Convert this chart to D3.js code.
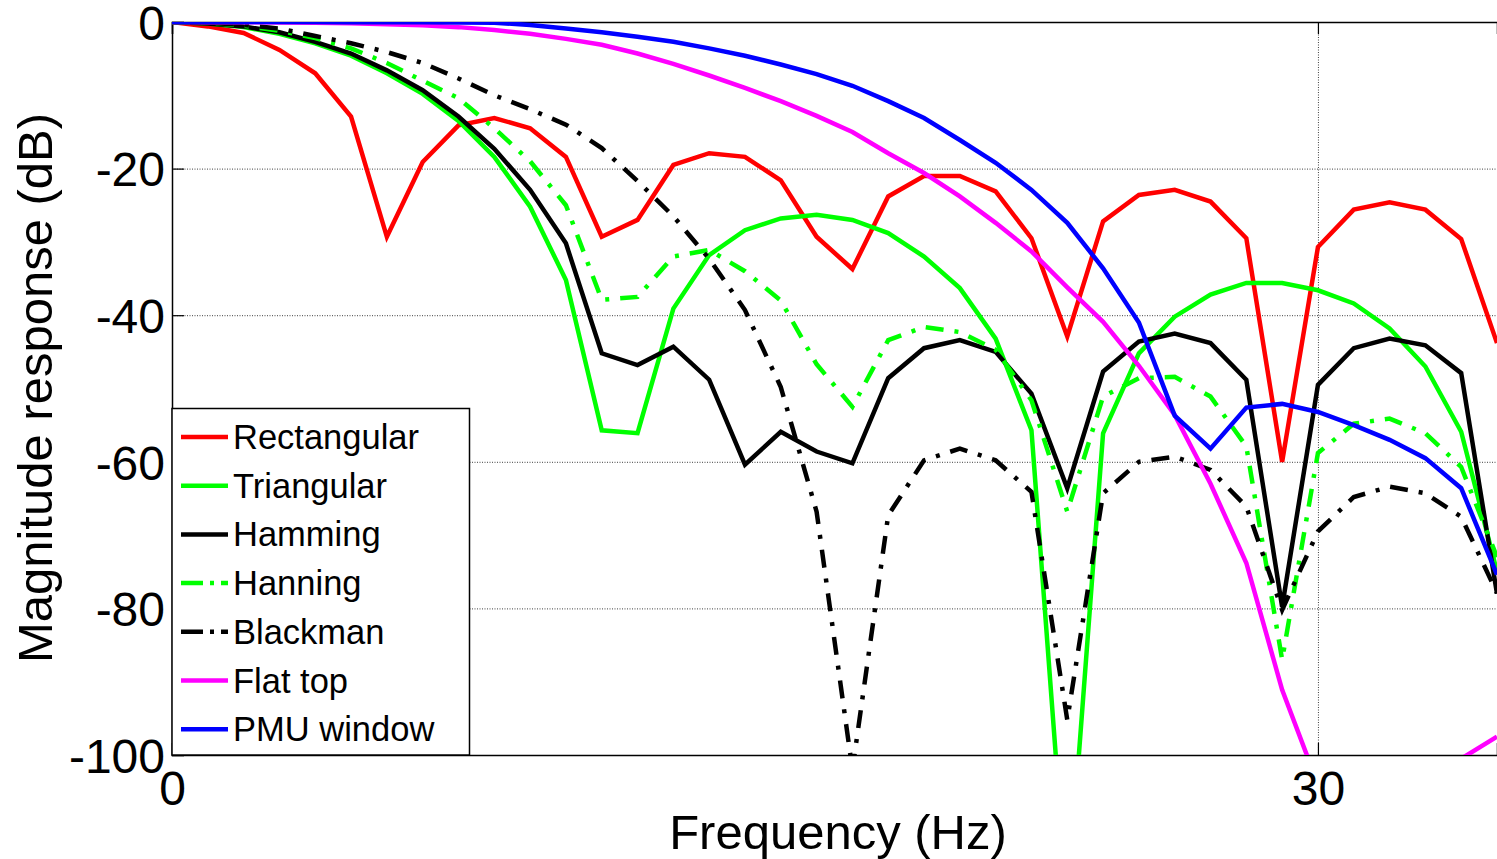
<!DOCTYPE html>
<html>
<head>
<meta charset="utf-8">
<script src="https://cdn.jsdelivr.net/npm/d3@7"></script>
<style>
    html, body { margin: 0; padding: 0; background: #fff; }
    svg { display: block; }
    text { font-family: "Liberation Sans", Arial, Helvetica, sans-serif; fill: #000; }
</style>
</head>
<body>
<svg id="chart" width="1497" height="859"></svg>
<script>
// frequency bins (Hz)
var freqs = [0, 0.9375, 1.875, 2.8125, 3.75, 4.6875, 5.625, 6.5625, 7.5, 8.4375,
    9.375, 10.3125, 11.25, 12.1875, 13.125, 14.0625, 15, 15.9375, 16.875, 17.8125,
    18.75, 19.6875, 20.625, 21.5625, 22.5, 23.4375, 24.375, 25.3125, 26.25, 27.1875,
    28.125, 29.0625, 30, 30.9375, 31.875, 32.8125, 33.75, 34.6875];

// magnitude responses (dB)
var rectangular = [0, -0.6, -1.5, -3.8, -7.0, -12.9, -29.3, -19.1, -14.1, -13.1,
    -14.5, -18.4, -29.3, -27.0, -19.5, -17.9, -18.4, -21.6, -29.3, -33.7,
    -23.8, -21.0, -21.0, -23.1, -29.5, -42.9, -27.2, -23.6, -22.9, -24.5,
    -29.5, -60.0, -30.7, -25.6, -24.6, -25.6, -29.6, -43.8];
var triangular = [0, -0.2, -0.7, -1.6, -2.9, -4.6, -7.0, -9.8, -13.5, -18.4,
    -25.2, -35.2, -55.7, -56.1, -39.1, -31.8, -28.4, -26.8, -26.3, -27.0,
    -28.8, -32.0, -36.3, -43.2, -55.7, -121, -56.1, -45.2, -40.2, -37.2,
    -35.6, -35.6, -36.6, -38.4, -41.8, -47.0, -55.9, -75.0];
var hamming = [0, -0.2, -0.6, -1.4, -2.7, -4.3, -6.6, -9.3, -12.9, -17.3,
    -22.9, -30.2, -45.2, -46.8, -44.3, -48.8, -60.4, -55.9, -58.6, -60.2,
    -48.6, -44.5, -43.4, -45.0, -50.7, -63.6, -47.7, -43.6, -42.5, -43.8,
    -48.8, -79.8, -49.5, -44.5, -43.2, -44.1, -47.9, -78.0];
var hanning = [0, -0.1, -0.5, -1.2, -2.2, -3.6, -5.6, -8.0, -10.4, -14.5,
    -19.0, -25.0, -37.9, -37.5, -32.0, -31.1, -34.0, -38.0, -46.7, -52.5,
    -43.4, -41.6, -42.3, -44.7, -51.6, -66.8, -51.1, -48.6, -48.4, -51.1,
    -57.9, -87.0, -58.8, -54.8, -54.1, -56.1, -60.7, -73.0];
var blackman = [0, -0.1, -0.4, -0.9, -1.9, -2.9, -4.1, -5.6, -7.7, -10.0,
    -11.9, -14.0, -17.2, -21.7, -26.5, -32.3, -39.3, -49.8, -66.8, -102,
    -67.3, -59.8, -58.2, -59.8, -64.1, -95.2, -64.3, -60.0, -59.3, -61.1,
    -66.1, -80.2, -69.5, -64.8, -63.4, -64.3, -67.5, -77.9];
var flatTop = [0, -0.02, -0.04, -0.06, -0.1, -0.18, -0.3, -0.45, -0.7, -1.1,
    -1.6, -2.3, -3.1, -4.3, -5.7, -7.3, -9.0, -10.8, -12.8, -15.0,
    -17.9, -20.6, -23.8, -27.4, -31.3, -36.2, -40.9, -46.9, -53.6, -63.0,
    -73.8, -91.1, -104, -115, -125, -112, -100.5, -97.5];
var pmuWindow = [0, 0, 0, -0.01, -0.01, -0.02, -0.03, -0.04, -0.06, -0.1,
    -0.4, -0.9, -1.4, -2.0, -2.7, -3.6, -4.6, -5.8, -7.1, -8.7,
    -10.8, -13.1, -16.1, -19.2, -22.9, -27.4, -33.6, -41.0, -53.7, -58.2,
    -52.6, -52.1, -53.2, -55.0, -57.0, -59.5, -63.6, -75.4];

var seriesNames = ['Rectangular', 'Triangular', 'Hamming', 'Hanning', 'Blackman', 'Flat top', 'PMU window'];
var seriesValues = [rectangular, triangular, hamming, hanning, blackman, flatTop, pmuWindow];
var seriesColors = ['#ff0000', '#00ff00', '#000000', '#00ff00', '#000000', '#ff00ff', '#0000ff'];
var seriesDash = [null, null, null, '18,11,4,11', '18,11,4,11', null, null];

var yTicks = [0, -20, -40, -60, -80, -100];
var xTicks = [0, 30];

var plot = {left: 172, top: 22, right: 1497, bottom: 755};

var svg = d3.select('#chart');

var x = d3.scaleLinear()
    .domain([0, d3.max(freqs)])
    .range([plot.left, plot.right]);
var y = d3.scaleLinear()
    .domain([-100, 0])
    .range([plot.bottom, plot.top]);

svg.append('defs').append('clipPath')
    .attr('id', 'plot-clip')
    .append('rect')
    .attr('x', plot.left)
    .attr('y', plot.top)
    .attr('width', plot.right - plot.left)
    .attr('height', plot.bottom - plot.top);

// dotted grid
var grid = svg.append('g').attr('class', 'grid');
grid.selectAll('line.hgrid')
    .data(yTicks.filter(function (d) { return d !== 0 && d !== -100; }))
    .enter().append('line')
    .attr('class', 'hgrid')
    .attr('x1', plot.left).attr('x2', plot.right)
    .attr('y1', function (d) { return y(d) + 0.5; })
    .attr('y2', function (d) { return y(d) + 0.5; })
    .style('stroke', '#000')
    .style('stroke-width', 1)
    .style('stroke-dasharray', '1,1.5')
    .style('opacity', 0.75);
grid.selectAll('line.vgrid')
    .data(xTicks.filter(function (d) { return d !== 0; }))
    .enter().append('line')
    .attr('class', 'vgrid')
    .attr('x1', function (d) { return x(d) + 0.5; })
    .attr('x2', function (d) { return x(d) + 0.5; })
    .attr('y1', plot.top).attr('y2', plot.bottom)
    .style('stroke', '#000')
    .style('stroke-width', 1)
    .style('stroke-dasharray', '1,1.5')
    .style('opacity', 0.75);

// axes (inward ticks, matlab style)
var yAxis = d3.axisLeft(y).tickValues(yTicks).tickSize(-12).tickPadding(7);
var xAxis = d3.axisBottom(x).tickValues(xTicks).tickSize(-12).tickPadding(16);
var xAxisTop = d3.axisTop(x).tickValues(xTicks).tickSize(-12).tickFormat('');

var gy = svg.append('g').attr('transform', 'translate(' + plot.left + ',0)').call(yAxis);
var gx = svg.append('g').attr('transform', 'translate(0,' + plot.bottom + ')').call(xAxis);
var gxt = svg.append('g').attr('transform', 'translate(0,' + plot.top + ')').call(xAxisTop);

[gy, gx, gxt].forEach(function (g) {
    g.select('.domain').style('stroke', '#000').style('stroke-width', 1.5);
    g.selectAll('.tick line').style('stroke', '#000').style('stroke-width', 1.2);
    g.selectAll('.tick text')
        .style('font-size', '48px')
        .style('font-family', '"Liberation Sans", Arial, sans-serif');
});
gy.selectAll('.tick text').attr('dy', '0.36em').text(function (d) { return String(d); });
gx.selectAll('.tick text').attr('dy', '0.71em');

// data lines
var line = d3.line()
    .x(function (d) { return x(d[0]); })
    .y(function (d) { return y(d[1]); });

var lines = svg.append('g').attr('clip-path', 'url(#plot-clip)');
seriesValues.forEach(function (vals, i) {
    var pts = freqs.map(function (f, j) { return [f, vals[j]]; });
    lines.append('path')
        .datum(pts)
        .attr('d', line)
        .style('fill', 'none')
        .style('stroke', seriesColors[i])
        .style('stroke-width', 4.5)
        .style('stroke-linejoin', 'miter')
        .style('stroke-dasharray', seriesDash[i]);
});

// axis titles
svg.append('text')
    .attr('x', 838)
    .attr('y', 849)
    .attr('text-anchor', 'middle')
    .style('font-size', '49px')
    .text('Frequency (Hz)');
svg.append('text')
    .attr('transform', 'translate(52,388) rotate(-90)')
    .attr('text-anchor', 'middle')
    .style('font-size', '49px')
    .text('Magnitude response (dB)');

// legend
var legend = svg.append('g').attr('class', 'legend');
legend.append('rect')
    .attr('x', plot.left)
    .attr('y', 408.5)
    .attr('width', 469.5 - plot.left)
    .attr('height', plot.bottom - 408.5)
    .style('fill', '#fff')
    .style('stroke', '#000')
    .style('stroke-width', 1.5);
var rowStart = 437, rowStep = 48.7;
var items = legend.selectAll('g.item')
    .data(seriesNames)
    .enter().append('g')
    .attr('class', 'item')
    .attr('transform', function (d, i) { return 'translate(0,' + (rowStart + i * rowStep) + ')'; });
items.append('line')
    .attr('x1', 181).attr('x2', 228)
    .attr('y1', 0).attr('y2', 0)
    .style('stroke', function (d, i) { return seriesColors[i]; })
    .style('stroke-width', 4.5)
    .style('stroke-dasharray', function (d, i) { return seriesDash[i] ? '22,7,4,7' : null; });
items.append('text')
    .attr('x', 233)
    .attr('y', 12)
    .style('font-size', '34.5px')
    .text(function (d) { return d; });
</script>
</body>
</html>
